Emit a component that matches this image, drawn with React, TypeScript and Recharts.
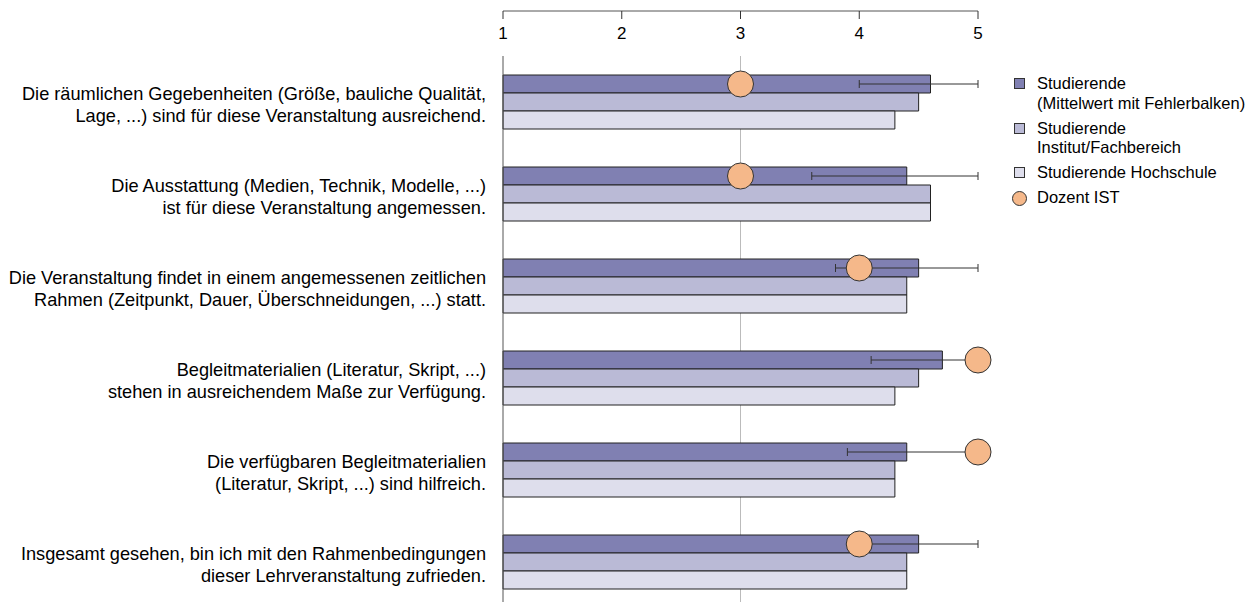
import React from "react";
import {
  ComposedChart,
  Bar,
  Scatter,
  ErrorBar,
  XAxis,
  YAxis,
  CartesianGrid,
} from "recharts";

const labels = [
  "Die räumlichen Gegebenheiten (Größe, bauliche Qualität,\nLage, ...) sind für diese Veranstaltung ausreichend.",
  "Die Ausstattung (Medien, Technik, Modelle, ...)\nist für diese Veranstaltung angemessen.",
  "Die Veranstaltung findet in einem angemessenen zeitlichen\nRahmen (Zeitpunkt, Dauer, Überschneidungen, ...) statt.",
  "Begleitmaterialien (Literatur, Skript, ...)\nstehen in ausreichendem Maße zur Verfügung.",
  "Die verfügbaren Begleitmaterialien\n(Literatur, Skript, ...) sind hilfreich.",
  "Insgesamt gesehen, bin ich mit den Rahmenbedingungen\ndieser Lehrveranstaltung zufrieden.",
];

const studierende = [4.6, 4.4, 4.5, 4.7, 4.4, 4.5];
const institut = [4.5, 4.6, 4.4, 4.5, 4.3, 4.4];
const hochschule = [4.3, 4.6, 4.4, 4.3, 4.3, 4.4];
const dozent = [3, 3, 4, 5, 5, 4];
const errLow = [4.0, 3.6, 3.8, 4.1, 3.9, 4.0];
const errHigh = [5, 5, 5, 5, 5, 5];

const xTicks = [1, 2, 3, 4, 5];
const gridValues = [3];

const C1 = "#8080b2";
const C2 = "#babad6";
const C3 = "#dedeec";
const DOT = "#f5b88a";
const BAR_SIZE = 18;
const FONT = "'Liberation Sans', Arial, Helvetica, sans-serif";

const data = labels.map((label, i) => ({
  label,
  studierende: studierende[i],
  institut: institut[i],
  hochschule: hochschule[i],
  dozent: dozent[i],
  err: [studierende[i] - errLow[i], errHigh[i] - studierende[i]],
}));

const TopTick = (props: any) => {
  const { x, y, payload } = props;
  return (
    <g>
      <line x1={x} x2={x} y1={y - 28} y2={y - 20} stroke="#333" />
      <text x={x} y={y} textAnchor="middle" fontSize={17} fill="#000" fontFamily={FONT}>
        {payload.value}
      </text>
    </g>
  );
};

const TopAxisLine = (props: any) => {
  const vb = props.viewBox;
  if (!vb) return null;
  return (
    <line x1={vb.x} x2={vb.x + vb.width} y1={vb.y} y2={vb.y} stroke="#555" />
  );
};

const LeftTick = (props: any) => {
  const { x, y, payload } = props;
  const lines = String(payload.value).split("\n");
  const lh = 22;
  return (
    <text textAnchor="end" fontSize={18.2} fill="#000" fontFamily={FONT}>
      {lines.map((ln, i) => (
        <tspan key={i} x={x - 9} y={y + 9 + (i - (lines.length - 1) / 2) * lh}>
          {ln}
        </tspan>
      ))}
    </text>
  );
};

const DozentDot = (props: any) => {
  const { cx, cy } = props;
  return <circle cx={cx} cy={cy - BAR_SIZE} r={13} fill={DOT} stroke="#333" strokeWidth={1} />;
};

const legendItems = [
  { color: C1, text: ["Studierende", "(Mittelwert mit Fehlerbalken)"], shape: "rect" },
  { color: C2, text: ["Studierende", "Institut/Fachbereich"], shape: "rect" },
  { color: C3, text: ["Studierende Hochschule"], shape: "rect" },
  { color: DOT, text: ["Dozent IST"], shape: "circle" },
];

export default function App() {
  return (
    <div
      style={{
        position: "absolute",
        left: 0,
        top: 0,
        width: 1253,
        height: 602,
        overflow: "hidden",
        background: "#fff",
        fontFamily: FONT,
      }}
    >
      <ComposedChart
        width={1253}
        height={608}
        data={data}
        layout="vertical"
        margin={{ top: 11, right: 275, bottom: 0, left: 0 }}
        barGap={0}
        barSize={BAR_SIZE}
      >
        <CartesianGrid horizontal={false} stroke="#bbb" verticalValues={gridValues} />
        <XAxis
          type="number"
          orientation="top"
          domain={[1, 5]}
          ticks={xTicks}
          height={45}
          tickSize={0}
          tickMargin={17}
          axisLine={false}
          tickLine={false}
          tick={<TopTick />}
          label={<TopAxisLine />}
        />
        <YAxis
          type="category"
          dataKey="label"
          width={503}
          tickLine={false}
          axisLine={{ stroke: "#555" }}
          tick={<LeftTick />}
          interval={0}
        />
        <Bar dataKey="studierende" fill={C1} stroke="#222" strokeWidth={1} isAnimationActive={false}>
          <ErrorBar dataKey="err" direction="x" width={4} stroke="#333" strokeWidth={1} isAnimationActive={false} />
        </Bar>
        <Bar dataKey="institut" fill={C2} stroke="#222" strokeWidth={1} isAnimationActive={false} />
        <Bar dataKey="hochschule" fill={C3} stroke="#222" strokeWidth={1} isAnimationActive={false} />
        <Scatter dataKey="dozent" shape={<DozentDot />} isAnimationActive={false} />
      </ComposedChart>
      <div style={{ position: "absolute", left: 1014, top: 74, fontSize: 16.5, color: "#000", lineHeight: "19.5px" }}>
        {legendItems.map((it, i) => (
          <div key={i} style={{ display: "flex", alignItems: "flex-start", marginBottom: 5.5 }}>
            <div
              style={{
                width: it.shape === "circle" ? 15 : 11,
                height: it.shape === "circle" ? 15 : 11,
                marginTop: it.shape === "circle" ? 3 : 4,
                marginLeft: it.shape === "circle" ? -2 : 0,
                marginRight: it.shape === "circle" ? 10 : 12,
                background: it.color,
                border: "1px solid #333",
                borderRadius: it.shape === "circle" ? "50%" : 0,
                boxSizing: "border-box",
              }}
            />
            <div>
              {it.text.map((t, j) => (
                <div key={j}>{t}</div>
              ))}
            </div>
          </div>
        ))}
      </div>
    </div>
  );
}
